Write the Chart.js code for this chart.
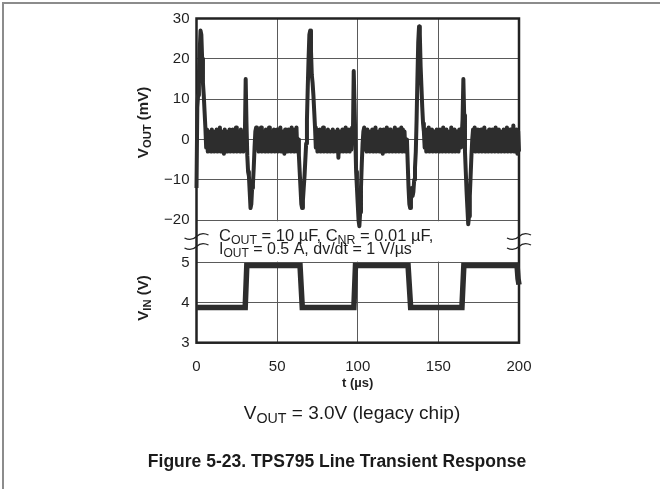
<!DOCTYPE html>
<html>
<head>
<meta charset="utf-8">
<script src="https://cdn.jsdelivr.net/npm/chart.js@4/dist/chart.umd.min.js"></script>
<style>
  html, body { margin: 0; padding: 0; background: #fff; overflow: hidden; }
  #page { position: relative; width: 660px; height: 489px; overflow: hidden;
          font-family: "Liberation Sans", Arial, Helvetica, sans-serif; color: #1a1a1a; }
  #edge { position: absolute; left: 2px; top: 2px; width: 700px; height: 520px;
          border-left: 2px solid #8c8c8c; border-top: 2px solid #8c8c8c; }
  #chart { position: absolute; left: 0; top: 0; }
  .cap { position: absolute; text-align: center; white-space: nowrap; }
  .cap sub { font-size: 0.75em; vertical-align: -0.25em; line-height: 0; }
  #cap1 { left: 152px; width: 400px; top: 402px; font-size: 19px; line-height: 22px; }
  #cap2 { left: 37px; width: 600px; top: 451px; font-size: 17.5px; line-height: 20px; font-weight: bold; }
</style>
</head>
<body>
<div id="page">
  <div id="edge"></div>
  <canvas id="chart" width="660" height="489"></canvas>
  <div class="cap" id="cap1">V<sub>OUT</sub> = 3.0V (legacy chip)</div>
  <div class="cap" id="cap2">Figure 5-23. TPS795 Line Transient Response</div>
</div>
<script>
// scope samples, one every 0.5 us from t = 0 to 200 us (mV)
const voutStep = 0.5
const vout = [
  -12, 8, 11, 16, 22, 27, 26, 20, 14, 11, 7, 3, -2, 2.5, -3, 2, -2.5, 1.5, -3, 2.5,
  -2, 2, -3, 1.5, -2.5, 2.5, -3, 2, -2, 3, -3, 1.5, -2.5, 2, -3.5, 2.5, -2, 2, -3, 1.5,
  -2.5, 2.5, -3, 2, -2, 2.5, -3, 1.5, -2.5, 3, -3, 2, -2.5, 2, -3, 2.5, -2, 1.5, -3, 2,
  1, 15, 4, -4, -8, -9, -13, -17, -16, -12, -11, -7, -2, 2, 3, -2, 2.5, -3, 2, -2.5,
  3, -3, 2, -2.5, 1.5, -3, 2.5, -2, 2, -3, 3, -2.5, 1.5, -3, 2, -2, 2.5, -3, 2, -2.5,
  2.5, -3, 1.5, -2, 3, -3, 2, -2.5, 2, -3.5, 2.5, -2, 1.5, -3, 2.5, -2.5, 2, -3, 3, -2,
  2, -3, 2.5, -2.5, 3, -3, 0, -4, -8, -12, -16, -17, -15, -12, -9, -5, -1, 5, 13, 20,
  26, 27, 22, 16, 14, 11, 7, 3, -2, 2.5, -3, 2, -2.5, 2.5, -3, 1.5, -2, 3, -3, 2,
  -2.5, 2, -3, 2.5, -2, 1.5, -3, 2, -2.5, 2.5, -3, 2, -2, 1.5, -3, 2.5, -4.5, 2, -3, 2,
  -2.5, 2.5, -3, 2, -2, 3, -3, 2, -2.5, 2.5, -3, 2, -2.5, 3, 1, 17, 9, 0, -8, -12,
  -16, -20, -21.5, -18, -12, -6, -1, 2, 3, -2.5, 2, -3, 2.5, -2, 1.5, -3, 2, -2.5, 2.5, -3,
  2, -2, 3, -3, 1.5, -2.5, 2, -3, 2.5, -2, 2, -3.5, 2.5, -2.5, 1.5, -3, 3, -2, 2, -3,
  2.5, -2.5, 2, -3, 1.5, -2, 3, -3, 2, -2.5, 2.5, -3, 2, -2, 3, -3, 2.5, -2.5, 2, -3,
  -2, 0, -6, -12, -16, -17, -15, -12, -14, -13, -10, -7, -3, 5, 15, 24, 28, 26, 18, 13,
  8, 4, 2, -2, 2.5, -3, 2, -2.5, 3, -3, 1.5, -2, 2.5, -3, 2, -2.5, 2, -3, 2.5, -2,
  1.5, -3, 2.5, -2.5, 2, -3, 3, -2, 2, -3, 2.5, -2.5, 1.5, -3, 2, -2, 3, -3, 2, -2.5,
  2.5, -3, 2, -2.5, 2, -3, 2.5, -2, 2, 1, 5, 15, 6, -3, -8, -13, -17, -21, -19, -14,
  -9, -4, 0, 2.5, -2, 3, -3, 2, -2.5, 2.5, -3, 1.5, -2, 2.5, -3, 2, -2.5, 3, -3, 2,
  -2.5, 2, -3, 2.5, -2, 1.5, -3, 2.5, -2.5, 2, -3, 3, -2, 2, -3, 2.5, -2.5, 1.5, -3, 2,
  -2, 2.5, -3, 2, -2.5, 3, -3, 2, -2, 2.5, -3, 1.5, -2.5, 3.5, -3, 2, -2.5, 2.5, -3.5, 2,
  -3
]

// input step corners (us, V)
const vinT = [0, 30.2, 31.2, 64.2, 65.6, 97.6, 98.6, 131.2, 132.8, 164.6, 165.8, 198.8, 199.4, 200]
const vinV = [3.88, 3.88, 4.93, 4.93, 3.88, 3.88, 4.93, 4.93, 3.88, 3.88, 4.93, 4.93, 4.6, 4.45]

const xTicks = [0, 50, 100, 150, 200]
const voutTicks = [-20, -10, 0, 10, 20, 30]
const vinTicks = [3, 4, 5]

const FONT = '"Liberation Sans", Arial, Helvetica, sans-serif'
const INK = '#1f1f1f'
const TRACE = '#2d2d2d'
const GRID = '#5a5a5a'

let voutPts = vout.map((v, i) => ({ x: i * voutStep, y: v }))
let vinPts = vinT.map((t, i) => ({ x: t, y: vinV[i] }))

// text with subscripts, parts = [[text, isSub], ...]
function richWidth(ctx, parts, size, bold) {
    let w = 0
    for (const [txt, sub] of parts) {
        ctx.font = (bold ? 'bold ' : '') + (sub ? size * 0.75 : size) + 'px ' + FONT
        w += ctx.measureText(txt).width
    }
    return w
}

function drawRich(ctx, parts, x, y, size, bold) {
    let cx = x
    for (const [txt, sub] of parts) {
        ctx.font = (bold ? 'bold ' : '') + (sub ? size * 0.75 : size) + 'px ' + FONT
        ctx.fillText(txt, cx, sub ? y + size * 0.2 : y)
        cx += ctx.measureText(txt).width
    }
}

function squiggle(ctx, x, y) {
    ctx.beginPath()
    ctx.moveTo(x - 12, y + 1.5)
    ctx.bezierCurveTo(x - 7, y + 4, x - 3, y + 3, x, y)
    ctx.bezierCurveTo(x + 3, y - 3, x + 7, y - 4, x + 12, y - 1.5)
    ctx.stroke()
}

const figurePlugin = {
    id: 'figure',
    beforeDatasetsDraw(chart) {
        const { ctx, chartArea: a, scales } = chart
        const yTop = scales.yOut.getPixelForValue(-20)
        const yBot = scales.yIn.getPixelForValue(5)
        ctx.save()
        // axis break: blank band between the two panels
        ctx.fillStyle = '#fff'
        ctx.fillRect(a.left, yTop + 1, a.right - a.left, yBot - yTop - 2)
        ctx.strokeStyle = '#222'
        ctx.lineWidth = 2.5
        ctx.strokeRect(a.left, a.top, a.right - a.left, a.bottom - a.top)
        ctx.restore()
    },
    afterDatasetsDraw(chart) {
        const { ctx, chartArea: a } = chart
        ctx.save()
        ctx.fillStyle = INK
        ctx.textBaseline = 'alphabetic'

        // break marks
        ctx.strokeStyle = '#222'
        ctx.lineWidth = 1.3
        for (const x of [a.left, a.right]) {
            squiggle(ctx, x, 236.5)
            squiggle(ctx, x, 246.5)
        }

        // conditions
        drawRich(ctx, [['C', 0], ['OUT', 1], [' = 10 \u00b5F, C', 0], ['NR', 1], [' = 0.01 \u00b5F,', 0]], 219, 240.5, 16.5, false)
        drawRich(ctx, [['I', 0], ['OUT', 1], [' = 0.5 A, dv/dt = 1 V/\u00b5s', 0]], 219, 254, 16, false)

        // y titles, rotated
        const yTitles = [
            { parts: [['V', 0], ['OUT', 1], [' (mV)', 0]], cy: 122.5 },
            { parts: [['V', 0], ['IN', 1], [' (V)', 0]], cy: 298 }
        ]
        for (const t of yTitles) {
            const w = richWidth(ctx, t.parts, 15, true)
            ctx.save()
            ctx.translate(147.5, t.cy)
            ctx.rotate(-Math.PI / 2)
            drawRich(ctx, t.parts, -w / 2, 0, 15, true)
            ctx.restore()
        }

        // x title
        const xt = [['t (\u00b5s)', 0]]
        const xw = richWidth(ctx, xt, 13, true)
        drawRich(ctx, xt, (a.left + a.right) / 2 - xw / 2, 386.5, 13, true)
        ctx.restore()
    }
}

const minus = v => v < 0 ? '\u2212' + Math.abs(v) : '' + v
const tickFont = { family: FONT, size: 15 }

new Chart(document.getElementById('chart'), {
    type: 'line',
    data: {
        datasets: [
            {
                label: 'VOUT',
                data: voutPts,
                yAxisID: 'yOut',
                borderColor: TRACE,
                borderWidth: 4,
                pointRadius: 0,
                tension: 0,
                clip: false,
                borderJoinStyle: 'round'
            },
            {
                label: 'VIN',
                data: vinPts,
                yAxisID: 'yIn',
                borderColor: TRACE,
                borderWidth: 5.5,
                pointRadius: 0,
                tension: 0,
                clip: false
            }
        ]
    },
    options: {
        responsive: false,
        animation: false,
        events: [],
        layout: { padding: { left: 146.5, top: 18.5, right: 141, bottom: 106.3 } },
        plugins: { legend: { display: false }, tooltip: { enabled: false } },
        scales: {
            x: {
                type: 'linear',
                min: 0,
                max: 200,
                afterBuildTicks: s => { s.ticks = xTicks.map(v => ({ value: v })) },
                afterFit: s => { s.height = 40 },
                ticks: { color: INK, font: tickFont, padding: 15, maxRotation: 0 },
                grid: { color: GRID, lineWidth: 1, drawTicks: false },
                border: { display: false }
            },
            yIn: {
                type: 'linear',
                position: 'left',
                stack: 'v',
                stackWeight: 122.5,
                min: 3,
                max: 6.06,
                afterBuildTicks: s => { s.ticks = vinTicks.map(v => ({ value: v })) },
                afterFit: s => { s.width = 50 },
                ticks: { color: INK, font: tickFont, padding: 7, callback: minus },
                grid: { color: GRID, lineWidth: 1, drawTicks: false },
                border: { display: false }
            },
            yOut: {
                type: 'linear',
                position: 'left',
                stack: 'v',
                stackWeight: 201.7,
                min: -20,
                max: 30,
                afterBuildTicks: s => { s.ticks = voutTicks.map(v => ({ value: v })) },
                afterFit: s => { s.width = 50 },
                ticks: { color: INK, font: tickFont, padding: 7, callback: minus },
                grid: { color: GRID, lineWidth: 1, drawTicks: false },
                border: { display: false }
            }
        }
    },
    plugins: [figurePlugin]
})
</script>
</body>
</html>
